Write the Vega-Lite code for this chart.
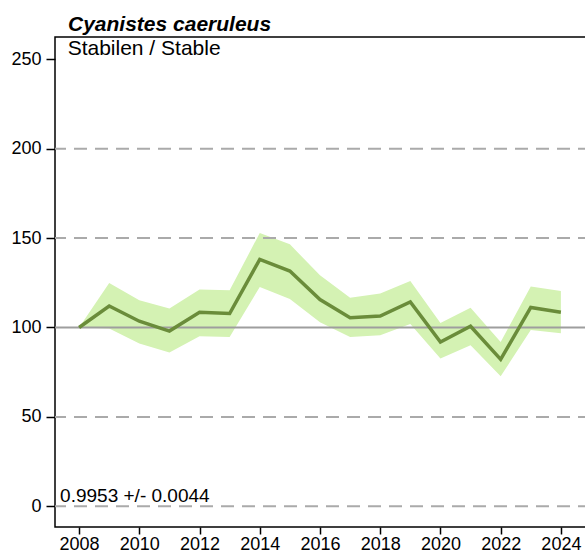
{
  "$schema": "https://vega.github.io/schema/vega-lite/v6.json",
  "width": 536,
  "height": 490,
  "autosize": {"type": "none"},
  "padding": {"left": 55, "top": 37, "right": 0, "bottom": 30},
  "background": "white",
  "config": {
    "view": {"stroke": "#000000", "strokeWidth": 1.5},
    "font": "Liberation Sans"
  },
  "title": {
    "text": "Cyanistes caeruleus",
    "anchor": "start",
    "frame": "group",
    "dx": 13,
    "offset": 2,
    "font": "Liberation Sans",
    "fontSize": 21,
    "fontStyle": "italic",
    "fontWeight": "bold",
    "color": "#000000"
  },
  "datasets": {
    "series": [
      {"year": 2008, "index": 100, "lower": 100, "upper": 100},
      {"year": 2009, "index": 112, "lower": 99.4, "upper": 124.9},
      {"year": 2010, "index": 103.5, "lower": 91, "upper": 115.2},
      {"year": 2011, "index": 98, "lower": 86, "upper": 110.6},
      {"year": 2012, "index": 108.5, "lower": 95.1, "upper": 121.2},
      {"year": 2013, "index": 107.8, "lower": 94.7, "upper": 120.8},
      {"year": 2014, "index": 138.1, "lower": 122.7, "upper": 152.9},
      {"year": 2015, "index": 131.6, "lower": 116, "upper": 146.5},
      {"year": 2016, "index": 115.6, "lower": 103, "upper": 129.2},
      {"year": 2017, "index": 105.5, "lower": 94.7, "upper": 116.7},
      {"year": 2018, "index": 106.4, "lower": 95.6, "upper": 119},
      {"year": 2019, "index": 114.3, "lower": 102, "upper": 126},
      {"year": 2020, "index": 91.9, "lower": 82.6, "upper": 102.5},
      {"year": 2021, "index": 100.7, "lower": 90, "upper": 111.1},
      {"year": 2022, "index": 82.2, "lower": 72.7, "upper": 91.9},
      {"year": 2023, "index": 111.2, "lower": 98.6, "upper": 122.9},
      {"year": 2024, "index": 108.5, "lower": 96.8, "upper": 120.4}
    ],
    "grid": [
      {"value": 0}, {"value": 50}, {"value": 150}, {"value": 200}
    ],
    "baseline": [{"value": 100}],
    "notes": [
      {"label": "Stabilen / Stable", "year": 2007.62, "value": 252.2, "size": 21},
      {"label": "0.9953 +/- 0.0044", "year": 2007.37, "value": 2.4, "size": 19}
    ]
  },
  "layer": [
    {
      "data": {"name": "series"},
      "mark": {"type": "area", "color": "#d4f2b3", "opacity": 1},
      "encoding": {
        "x": {
          "field": "year",
          "type": "quantitative",
          "scale": {"domain": [2007.2, 2025.0], "nice": false, "zero": false},
          "axis": {
            "title": null,
            "values": [2008, 2009, 2010, 2011, 2012, 2013, 2014, 2015, 2016, 2017, 2018, 2019, 2020, 2021, 2022, 2023, 2024],
            "labelExpr": "datum.value % 2 == 0 ? datum.label : ''",
            "format": "d",
            "grid": false,
            "domain": false,
            "tickColor": "#000000",
            "tickWidth": 1.5,
            "tickSize": 7,
            "labelPadding": 1,
            "labelFontSize": 18,
            "labelFont": "Liberation Sans",
            "labelColor": "#000000",
            "labelFlush": false,
            "labelOverlap": false
          }
        },
        "y": {
          "field": "lower",
          "type": "quantitative",
          "scale": {"domain": [-11.6, 262.5], "nice": false, "zero": false},
          "axis": {
            "title": null,
            "values": [0, 50, 100, 150, 200, 250],
            "grid": false,
            "domain": false,
            "tickColor": "#000000",
            "tickWidth": 1.5,
            "tickSize": 9,
            "labelPadding": 5,
            "labelFontSize": 18,
            "labelFont": "Liberation Sans",
            "labelColor": "#000000",
            "labelFlush": false,
            "labelOverlap": false
          }
        },
        "y2": {"field": "upper"}
      }
    },
    {
      "data": {"name": "grid"},
      "mark": {"type": "rule", "color": "#aaaaaa", "strokeWidth": 2, "strokeDash": [13, 8]},
      "encoding": {"y": {"field": "value", "type": "quantitative"}}
    },
    {
      "data": {"name": "baseline"},
      "mark": {"type": "rule", "color": "#9e9e9e", "strokeWidth": 2},
      "encoding": {"y": {"field": "value", "type": "quantitative"}}
    },
    {
      "data": {"name": "series"},
      "mark": {"type": "line", "color": "#6a8c3a", "strokeWidth": 3.5},
      "encoding": {
        "x": {"field": "year", "type": "quantitative"},
        "y": {"field": "index", "type": "quantitative"}
      }
    },
    {
      "data": {"name": "notes"},
      "mark": {"type": "text", "align": "left", "baseline": "alphabetic", "font": "Liberation Sans", "color": "#000000"},
      "encoding": {
        "x": {"field": "year", "type": "quantitative"},
        "y": {"field": "value", "type": "quantitative"},
        "text": {"field": "label"},
        "size": {"field": "size", "type": "quantitative", "scale": null}
      }
    }
  ]
}
